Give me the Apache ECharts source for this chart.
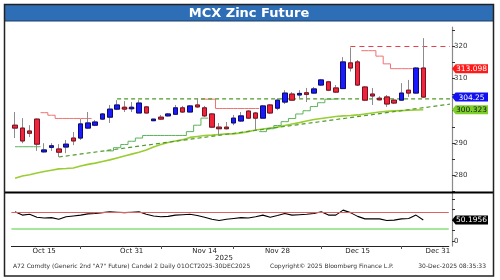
<!DOCTYPE html>
<html><head><meta charset="utf-8">
<script src="https://cdn.jsdelivr.net/npm/echarts@6/dist/echarts.min.js"></script>
<style>html,body{margin:0;padding:0;background:#fff}#c{width:500px;height:280px}</style>
</head><body><div id="c"></div>
<script>
// ---- data ----
const dates = ['Oct 9','Oct 10','Oct 13','Oct 14','Oct 15','Oct 16','Oct 17','Oct 20','Oct 21','Oct 22','Oct 23','Oct 24','Oct 27','Oct 28','Oct 29','Oct 30','Oct 31',
'Nov 3','Nov 4','Nov 5','Nov 6','Nov 7','Nov 10','Nov 11','Nov 12','Nov 13','Nov 14',
'Nov 17','Nov 18','Nov 19','Nov 20','Nov 21','Nov 24','Nov 25','Nov 26','Nov 27','Nov 28',
'Dec 1','Dec 2','Dec 3','Dec 4','Dec 5','Dec 8','Dec 9','Dec 10','Dec 11','Dec 12',
'Dec 15','Dec 16','Dec 17','Dec 18','Dec 19','Dec 22','Dec 23','Dec 24','Dec 26','Dec 29','Dec 30','Dec 31','Jan 1'];
const tickLabels = ['Oct 15','Oct 31','Nov 14','Nov 28','Dec 15','Dec 31'];
const minorTickDates = ['Oct 22','Nov 6','Nov 20','Dec 8','Dec 23'];

const open  = [295.5,294.6,293.7,297.4,287.2,288.6,288.1,288.7,291.5,291.5,294.6,295.5,297.4,298.0,300.5,301.1,300.6,299.3,301.2,296.9,298.0,298.4,298.9,300.9,299.6,301.8,300.9,299.0,294.9,294.9,296.2,296.8,299.9,299.3,297.7,301.8,300.8,302.7,305.2,304.9,305.6,305.5,308.0,309.0,307.1,306.9,314.9,315.2,307.4,305.2,303.9,304.3,303.3,303.3,306.4,305.5,313.3];
const high  = [299.6,297.7,295.5,297.6,289.9,289.9,289.6,290.9,293.4,297.4,299.6,297.1,299.3,301.8,303.3,303.0,302.7,303.3,301.5,297.4,298.7,299.3,301.8,301.5,301.8,303.9,301.5,299.3,296.2,296.5,298.7,299.6,300.2,299.6,301.8,302.1,303.9,306.4,305.8,306.4,307.1,307.4,309.9,309.3,308.0,316.7,319.7,315.8,307.7,307.1,304.5,304.9,303.6,308.6,309.6,313.5,322.6];
const low   = [291.5,289.9,291.8,287.5,287.0,287.5,285.6,286.8,289.3,290.9,294.3,295.2,297.1,296.2,300.2,299.6,299.6,299.3,299.2,296.8,297.1,298.2,298.9,299.3,299.6,300.9,298.0,294.6,292.4,294.2,295.5,296.5,297.4,294.0,297.7,299.0,300.2,302.1,303.2,303.9,302.7,305.3,307.7,306.1,305.5,306.9,312.2,307.7,303.0,301.8,303.2,301.2,302.1,303.3,304.3,305.3,304.0];
const close = [294.6,290.6,293.0,289.6,287.8,289.1,287.1,289.6,290.6,295.9,296.2,296.5,299.0,300.5,301.8,300.5,301.1,302.4,299.3,297.4,297.4,299.0,300.9,299.6,301.5,301.2,298.4,294.9,294.4,294.4,297.7,298.4,297.7,297.7,301.5,299.3,303.3,305.5,303.3,305.4,305.1,306.8,309.6,306.4,305.8,315.2,313.3,308.0,303.3,304.6,303.4,302.1,302.4,305.5,305.5,313.3,304.25];

const sma = [279.0,279.7,280.1,280.6,281.1,281.5,281.9,282.0,282.2,282.8,283.3,283.7,284.2,284.7,285.3,285.9,286.5,287.1,287.8,288.7,289.5,290.1,290.6,291.0,291.7,292.0,292.3,292.4,292.6,292.8,292.8,293.1,293.5,294.0,294.3,294.6,294.9,295.4,295.9,296.3,296.8,297.3,297.6,297.9,298.2,298.4,298.5,298.7,299.0,299.3,299.6,299.8,299.95,300.05,300.15,300.25,300.323];

const N = null;
const redStop = [N,N,N,N,299.4,298.6,297.6,297.6,297.6,297.6,297.6,N,N,N,N,300.8,300.8,N,N,N,N,N,N,N,N,N,303.6,303.6,300.7,300.7,300.7,300.7,300.7,300.7,N,N,N,N,N,N,N,N,N,N,N,N,N,N,318.7,318.7,317.0,314.6,313.098,313.098,313.098,313.098,313.098];
const greenStop = [288.8,288.8,288.8,288.8,N,N,N,N,N,N,N,N,N,287.5,288.5,289.5,290.5,291.5,292.3,292.3,292.3,292.3,292.3,292.3,293.5,295.5,297.7,N,N,N,N,N,N,N,293.5,294.4,295.4,296.6,297.6,299.0,300.0,301.3,302.5,303.6,303.7,N,N,N,N,N,N,N,N,N,N,N,N];

// support / resistance lines
const supportFlat = {from: 14, level: 303.7};
const supportTrend = {from: 6, startVal: 285.6, endVal: 302.15};
const resistance = {from: 46, level: 320};

const rsi = [70,62,64,57,55,56,52,58,60,62,65,66,68,70,69,68,69,70,64,60,58,59,62,63,64,61,57,52,49,52,54,56,55,58,62,57,61,66,62,63,64,66,70,62,62,74,68,59,53,53,53,49,50,53,54,62,50.1956];
const rsiUpper = 70, rsiLower = 30;

const priceTicks = [275,280,285,290,295,300,305,310,315,320,325];
const priceLabels = [280,290,300,310,320];
const rsiTicks = [0,25,50,75,100];
const rsiLabels = [0,100];

// ---- layout / style ----
const FONT = 'DejaVu Sans';
const GL = 11.4, GW = 437.4, AXOFF = 3.2;
const xMin = -0.5, xMax = dates.length - 0.5;
const xEnd = xMax + AXOFF / (GW / dates.length);
const BLUE = '#1a1aff', RED = '#f0243a', WICK = '#8c8c8c';
const last = close.length - 1;

const wickData = open.map((o,i)=>[o, close[i], low[i], high[i]]);
const bodyData = open.map((o,i)=>[o, close[i], Math.min(o,close[i]), Math.max(o,close[i])]);

function tag(value, color, textColor){
  return {coord:[xMax, value], value: value, itemStyle:{color: color},
          label:{color: textColor}};
}
function tagStyle(){
  return {
    symbol:'path://M0,5L4,0L40,0L40,10L4,10Z', symbolSize:[36,9], symbolKeepAspect:false,
    symbolOffset:[AXOFF+18,0], silent:true,
    label:{show:true, position:'inside', fontSize:7.5, fontFamily:FONT, offset:[1.5,0.5],
           formatter:p=>String(p.value)}
  };
}
const yLabel = {fontSize:7, color:'#333', margin:2, fontFamily:FONT};

const chart = echarts.init(document.getElementById('c'));
chart.setOption({
  animation:false,
  backgroundColor:'#fff',
  grid:[{left:GL, top:27, width:GW, height:165.5},{left:GL, top:193, width:GW, height:53}],
  xAxis:[
    {type:'category', gridIndex:0, data:dates, boundaryGap:true, show:false},
    {type:'value', gridIndex:0, min:xMin, max:xMax, show:false},
    {type:'value', gridIndex:1, min:xMin, max:xMax, splitLine:{show:false},
     axisLine:{show:true, onZero:false, lineStyle:{color:'#222', width:1}},
     axisTick:{show:true, length:3, customValues:minorTickDates.map(d=>dates.indexOf(d)), lineStyle:{color:'#555'}},
     axisLabel:{customValues:tickLabels.map(d=>dates.indexOf(d)), formatter:v=>dates[Math.round(v)],
                fontSize:7, color:'#222', margin:2, fontFamily:FONT}}
  ],
  yAxis:[
    {type:'value', gridIndex:0, position:'right', offset:AXOFF, min:274.55, max:326.07,
     splitLine:{show:false},
     axisLine:{show:true, onZero:false, lineStyle:{color:'#8a8a8a', width:1.2}},
     axisTick:{show:true, length:3, customValues:priceTicks, lineStyle:{color:'#333'}},
     axisLabel:Object.assign({customValues:priceLabels}, yLabel)},
    {type:'value', gridIndex:1, position:'right', offset:AXOFF, min:-12, max:115,
     splitLine:{show:false},
     axisLine:{show:true, onZero:false, lineStyle:{color:'#8a8a8a', width:1.2}},
     axisTick:{show:true, length:3, customValues:rsiTicks, lineStyle:{color:'#333'}},
     axisLabel:Object.assign({customValues:[rsiLabels[0]]}, yLabel)}
  ],
  series:[
    {type:'line', xAxisIndex:0, yAxisIndex:0, data:sma, symbol:'none', z:1,
     lineStyle:{color:'#9acd32', width:1.6}},
    {type:'line', xAxisIndex:0, yAxisIndex:0, data:redStop, symbol:'none', step:'middle', z:1,
     lineStyle:{color:'#f07272', width:1}},
    {type:'line', xAxisIndex:0, yAxisIndex:0, data:greenStop, symbol:'none', step:'middle', z:1,
     lineStyle:{color:'#5cb35c', width:1}},
    {type:'line', xAxisIndex:1, yAxisIndex:0, clip:false, symbol:'none', z:1,
     data:[[supportTrend.from, supportTrend.startVal],[xEnd, supportTrend.endVal]],
     lineStyle:{color:'#4f9a2a', width:1.2, type:[4,3]}},
    {type:'line', xAxisIndex:1, yAxisIndex:0, clip:false, symbol:'none', z:1,
     data:[[resistance.from, resistance.level],[xEnd, resistance.level]],
     lineStyle:{color:'#e8404a', width:1.2, type:[5,4]}},
    {type:'line', xAxisIndex:1, yAxisIndex:0, clip:false, symbol:'none', z:1,
     data:[[supportFlat.from, supportFlat.level],[xEnd, supportFlat.level]],
     lineStyle:{color:'#4f9a2a', width:1.2, type:[4,3]},
     markPoint:Object.assign(tagStyle(), {data:[
       tag(redStop[last], '#ff1a1a', '#fff'),
       tag(close[last], '#1010f0', '#fff'),
       tag(sma[last], '#7ccf2a', '#111')
     ]})},
    {type:'candlestick', xAxisIndex:0, yAxisIndex:0, data:wickData, barWidth:5, z:3,
     itemStyle:{color:BLUE, color0:RED, borderColor:WICK, borderColor0:WICK, borderWidth:1}},
    {type:'candlestick', xAxisIndex:0, yAxisIndex:0, data:bodyData, barWidth:5, z:4,
     itemStyle:{color:BLUE, color0:RED, borderColor:'#0a0a70', borderColor0:'#7a1020', borderWidth:1}},
    {type:'line', xAxisIndex:2, yAxisIndex:1, data:rsi.map((v,i)=>[i,v]), symbol:'none', clip:false,
     lineStyle:{color:'#000', width:1.1},
     markLine:{silent:true, symbol:['none','none'],
       data:[{yAxis:rsiUpper, label:{show:false}, lineStyle:{color:'#e06060', width:1, type:'solid'}},
             {yAxis:rsiLower, label:{show:false}, lineStyle:{color:'#a8e6a0', width:2, type:'solid'}},
             {yAxis:rsiLabels[1], lineStyle:{opacity:0},
              label:{show:true, position:'end', distance:AXOFF+5, color:'#333', fontSize:7,
                     fontFamily:FONT, formatter:String(rsiLabels[1])}}]},
     markPoint:Object.assign(tagStyle(), {data:[tag(rsi[last], '#000', '#fff')]})}
  ],
  graphic:{elements:[
    {type:'rect', shape:{x:5, y:5, width:488, height:16}, style:{fill:'#2e6eb6'}, z:10},
    {type:'line', shape:{x1:5, y1:21, x2:493, y2:21}, style:{stroke:'#1b3d66', lineWidth:1}, z:11},
    {type:'text', x:249, y:13.5, z:12, style:{text:'MCX Zinc Future', fill:'#fff',
      font:'bold 13px "DejaVu Sans"', align:'center', verticalAlign:'middle'}},
    {type:'line', shape:{x1:5, y1:192.5, x2:493, y2:192.5}, style:{stroke:'#000', lineWidth:2}, z:10},
    {type:'rect', shape:{x:4.5, y:4.5, width:489, height:271.5}, style:{fill:'transparent', stroke:'#222', lineWidth:1.5}, z:20},
    {type:'text', x:224, y:258, z:12, style:{text:'2025', fill:'#222', font:'7px "DejaVu Sans"', align:'center', verticalAlign:'middle'}},
    {type:'text', x:13, y:266, z:12, style:{text:'A72 Comdty (Generic 2nd "A7" Future) Candel 2 Daily 01OCT2025-30DEC2025', fill:'#333', font:'6px "DejaVu Sans"', align:'left', verticalAlign:'middle'}},
    {type:'text', x:270, y:266, z:12, style:{text:'Copyright\u00a9 2025 Bloomberg Finance L.P.', fill:'#333', font:'6px "DejaVu Sans"', align:'left', verticalAlign:'middle'}},
    {type:'text', x:486, y:266, z:12, style:{text:'30-Dec-2025 08:35:33', fill:'#333', font:'6px "DejaVu Sans"', align:'right', verticalAlign:'middle'}}
  ]}
});
</script>
</body></html>
